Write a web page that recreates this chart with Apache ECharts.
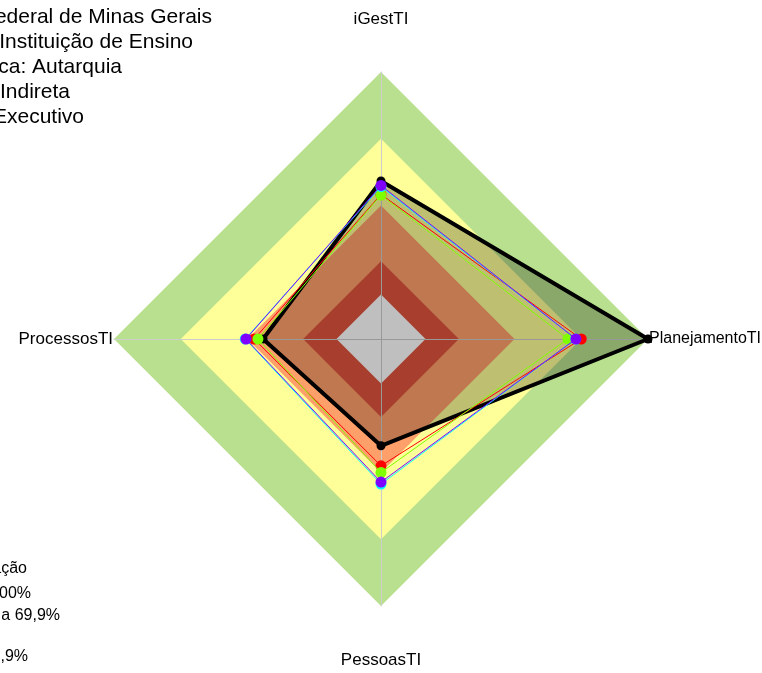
<!DOCTYPE html>
<html><head><meta charset="utf-8">
<script src="https://cdn.jsdelivr.net/npm/echarts@6/dist/echarts.min.js"></script>
<style>html,body{margin:0;padding:0;background:#fff}#c{width:762px;height:673px}</style>
</head><body><div id="c"></div>
<script>
// Indicators (counter-clockwise from top)
const indicators = ['iGestTI', 'ProcessosTI', 'PessoasTI', 'PlanejamentoTI'];
// Classification bands (upper limits, as share)
const bandLimits = [1.0, 0.70, 0.40, 0.15, 0];
const bandColors = ['#B9E08E', '#FFFF99', '#FFA06B', '#E0553E', '#FFFFFF'];
// Series
const seriesNames = ['Instituição', 'Referência 1', 'Referência 2', 'Referência 3', 'Referência 4'];
const seriesColors = ['#000000', '#FF0000', '#80FF00', '#00FFFF', '#8000FF'];
const instValues = [0.51, 0.33, 0.28, 1.0];
const redValues = [0.45, 0.37, 0.37, 0.70];
const limeValues = [0.447, 0.353, 0.40, 0.64];
const cyanValues = [0.485, 0.41, 0.452, 0.675];
const purpleValues = [0.49, 0.407, 0.443, 0.676];
// Texts
const infoLines = ['Organização: Universidade Federal de Minas Gerais', 'Segmento: Instituição de Ensino',
  'Natureza Jurídica: Autarquia', 'Administração Indireta', 'Poder: Executivo'];
const legendLines = ['Classificação', 'Aprimorado: 70% a 100%', 'Intermediário: 40% a 69,9%', 'Inexpressivo: 0% a 14,9%'];

const FONT = "'Liberation Sans', Arial, sans-serif";
const chart = echarts.init(document.getElementById('c'), null, {renderer: 'canvas'});
const posKey = ['top', 'left', 'bottom', 'right'];
const allValues = [instValues, redValues, limeValues, cyanValues, purpleValues];

const series = [{
  type: 'radar', z: -1, silent: true, symbol: 'none',
  data: bandLimits.map((v, i) => ({
    value: indicators.map(() => v),
    lineStyle: {width: 0, opacity: 0},
    areaStyle: {color: bandColors[i], opacity: 1}
  }))
}];
allValues.forEach((vals, i) => {
  const black = i === 0;
  series.push({
    type: 'radar', name: seriesNames[i], z: 2 + i,
    symbol: 'circle', symbolSize: black ? 9 : 11,
    data: [{
      value: vals, name: seriesNames[i],
      itemStyle: {color: seriesColors[i]},
      lineStyle: {color: seriesColors[i], width: black ? 4 : 1},
      areaStyle: black ? {color: 'rgba(0,0,0,0.25)', opacity: 1} : undefined
    }]
  });
});

const graphic = [];
const infoRight = [212, 193, 122, 70, 84];
const infoY = [17, 42, 67, 92, 117];
infoLines.forEach((t, i) => graphic.push({type: 'text', x: infoRight[i], y: infoY[i],
  style: {text: t, align: 'right', verticalAlign: 'middle', font: '21px ' + FONT, fill: '#000'}}));
const legRight = [27, 31, 60, 28];
const legY = [569, 594, 616, 657];
legendLines.forEach((t, i) => graphic.push({type: 'text', x: legRight[i], y: legY[i],
  style: {text: t, align: 'right', verticalAlign: 'middle', font: '16px ' + FONT, fill: '#000'}}));

chart.setOption({
  animation: false,
  backgroundColor: '#fff',
  radar: {
    center: [381, 339], radius: 267, shape: 'polygon', startAngle: 90, z: 0,
    splitNumber: 1,
    indicator: indicators.map(n => ({name: n, min: -0.2, max: 1})),
    nameGap: 1,
    axisName: {
      color: '#000', fontFamily: FONT, fontSize: 17,
      formatter: (name) => '{' + posKey[indicators.indexOf(name)] + '|' + name + '}',
      rich: {
        top: {fontSize: 17, fontFamily: FONT, color: '#000', padding: [0, 0, 43, 0]},
        bottom: {fontSize: 17, fontFamily: FONT, color: '#000', padding: [45, 0, 0, 0]},
        left: {fontSize: 17, fontFamily: FONT, color: '#000'},
        right: {fontSize: 16, fontFamily: FONT, color: '#000'}
      }
    },
    axisLine: {lineStyle: {color: '#CDCDCD', width: 1}},
    splitLine: {show: false},
    splitArea: {show: false}
  },
  graphic: graphic,
  series: series
});
</script></body></html>
